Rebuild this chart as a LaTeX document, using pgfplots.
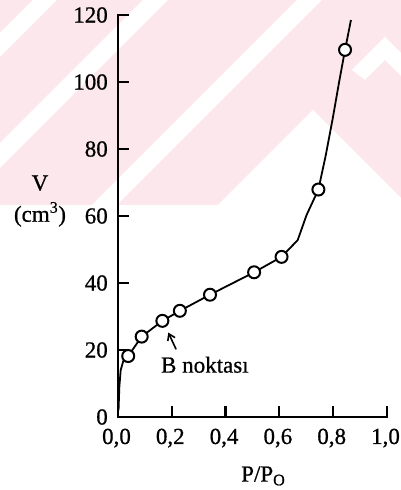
\documentclass[border=0pt]{standalone}
\usepackage{pgfplots}
\pgfplotsset{compat=1.18}
\usepackage{fontspec}
\setmainfont{Liberation Serif}[FakeBold=0.7]
\usetikzlibrary{arrows.meta}
\definecolor{wm}{RGB}{252,232,236}

\pgfplotstableread{
x y
0.002 2
0.005 9
0.010 14
0.020 16.8
0.038 18.2
0.088 24.0
0.165 28.7
0.230 31.7
0.342 36.5
0.506 43.2
0.608 47.8
0.668 52.8
0.701 60.3
0.745 67.9
0.772 78.0
0.798 89.0
0.822 100.0
0.844 109.6
0.866 118.5
}\curve

\pgfplotstableread{
x y
0.038 18.2
0.088 24.0
0.165 28.7
0.230 31.7
0.342 36.5
0.506 43.2
0.608 47.8
0.745 67.9
0.844 109.6
}\points

\begin{document}
\begin{tikzpicture}
\path[use as bounding box] (-118pt,-73pt) rectangle (283pt,417pt);
\begin{scope}[shift={(-118pt,417pt)}, x=1pt, y=-1pt]
  \fill[wm] (0,0) rectangle (401,205);
  \fill[white] (0,33) -- (33,0) -- (57,0) -- (0,57) -- cycle;
  \fill[white] (0,143) -- (143,0) -- (168,0) -- (0,168) -- cycle;
  \fill[white] (92,205) -- (297,0) -- (322,0) -- (117,205) -- cycle;
  \fill[white] (218,205) -- (313,110) -- (401,198) -- (401,205) -- cycle;
  \fill[white] (352,70) -- (385,37) -- (401,53) -- (401,76) -- (385,60) -- (365,80) -- cycle;
\end{scope}
\begin{axis}[
  scale only axis,
  width=269pt, height=402pt,
  xmin=0, xmax=1, ymin=0, ymax=120,
  axis x line*=bottom, axis y line*=left,
  axis line style={line width=2.6pt, line cap=rect},
  xtick={0,0.2,...,1.0}, ytick={0,20,...,120},
  tick align=inside,
  major tick length=11pt,
  every tick/.style={black, line width=2.2pt},
  xticklabel style={/pgf/number format/fixed, /pgf/number format/fixed zerofill, /pgf/number format/precision=1, /pgf/number format/use comma, yshift=-10.5pt, xshift=-1.5pt},
  /pgf/number format/assume math mode=true,
  tick label style={font=\fontsize{23}{25}\selectfont, inner sep=1pt},
  yticklabel style={xshift=-9pt},
  clip=false,
]
\addplot[black, line width=1.8pt, line join=round] table[x=x,y=y] {\curve};
\addplot[only marks, mark=*, mark size=6pt, mark options={fill=white, draw=black, line width=2pt}] table[x=x,y=y] {\points};
\draw[line width=1.6pt, -{Straight Barb[length=6pt,width=8pt]}] (axis cs:0.216,20.2) -- (axis cs:0.187,25.2);
\node[font=\fontsize{23}{25}\selectfont] at (axis cs:0.323,15.6) {B noktası};
\node[font=\fontsize{23}{25}\selectfont] at (axis cs:0.54,-17.6) {P/P\textsubscript{O}};
\node[font=\fontsize{23}{25}\selectfont] at (axis cs:-0.29,69.8) {V};
\node[font=\fontsize{23}{25}\selectfont] at (axis cs:-0.29,60.5) {(cm\textsuperscript{3})};
\end{axis}
\end{tikzpicture}
\end{document}
